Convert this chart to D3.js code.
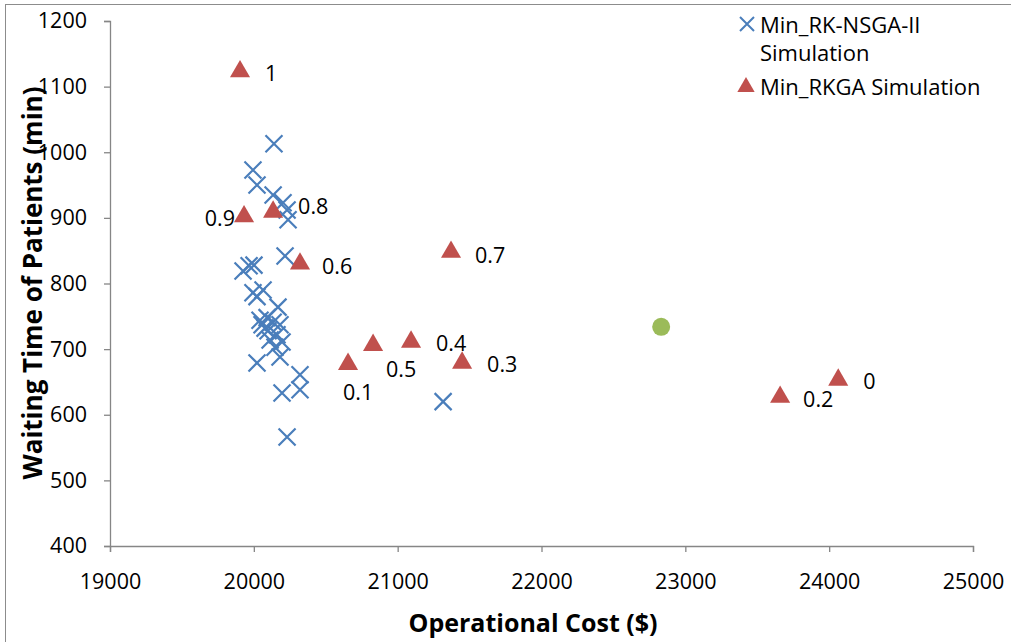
<!DOCTYPE html>
<html>
<head>
<meta charset="utf-8">
<script src="https://cdn.jsdelivr.net/npm/d3@7"></script>
<style>
  html, body { margin: 0; padding: 0; background: #fff; }
  svg { display: block; }
  text { font-family: "Open Sans", "Noto Sans", sans-serif; fill: #000; }
</style>
</head>
<body>
<svg id="chart" width="1011" height="642"></svg>
<script>
// Min_RK-NSGA-II simulation results: operational cost ($) and waiting time (min)
const nsgaCost = [20140, 19994, 20022, 20134, 20203, 20231, 20238, 20217, 19925, 19967,
                  20001, 19994, 20064, 20022, 20168, 20092, 20057, 20134, 20078, 20182,
                  20161, 20196, 20147, 20113, 20022, 20182, 20321, 20196, 20321, 20231,
                  21316, 20099, 20043];
const nsgaWait = [1013, 973, 950, 935, 923, 912, 897, 842, 819, 827,
                  828, 786, 790, 780, 764, 748, 737, 741, 732, 737,
                  722, 711, 703, 714, 679, 688, 661, 633, 638, 566,
                  620, 728, 744];

// Min_RKGA simulation results, one per weight value
const rkgaWeight = ["1", "0.9", "0.8", "0.6", "0.7", "0.1", "0.5", "0.4", "0.3", "0.2", "0"];
const rkgaCost   = [19904, 19932, 20134, 20321, 21371, 20655, 20829, 21093, 21448, 23659, 24063];
const rkgaWait   = [1123, 902, 909, 830, 848, 677, 706, 711, 679, 627, 653];
// where each weight label sits relative to its marker: [dx, dy, anchor]
const rkgaLabelPlace = [[25, 1, "start"], [-9, 1, "end"], [25, -6, "start"], [22, 2, "start"],
                        [24, 2, "start"], [-5, 27, "start"], [13, 23, "start"], [25, 1, "start"],
                        [25, 1, "start"], [23, 1, "start"], [25, 1, "start"]];

// Single reference point
const refCost = [22832];
const refWait = [734];

// Axis ticks
const xTicks = [19000, 20000, 21000, 22000, 23000, 24000, 25000];
const yTicks = [400, 500, 600, 700, 800, 900, 1000, 1100, 1200];

const svg = d3.select("#chart");
const axisGrey = "#868686";
const blue = "#4a7ebb", red = "#c0504d", green = "#9bbb59";

// outer chart frame
svg.append("rect").attr("x", 5.5).attr("y", 4.5).attr("width", 1100).attr("height", 700)
  .attr("fill", "none").attr("stroke", "#8c8c8c").attr("stroke-width", 1);

const x = d3.scaleLinear().domain([19000, 25000]).range([110, 973]);
const y = d3.scaleLinear().domain([400, 1200]).range([546, 21]);

// x axis
const xAxis = svg.append("g").attr("transform", "translate(0,546)")
  .call(d3.axisBottom(x).tickValues(xTicks).tickSize(6).tickPadding(22).tickFormat(d3.format("d")));
// y axis
const yAxis = svg.append("g").attr("transform", "translate(110,0)")
  .call(d3.axisLeft(y).tickValues(yTicks).tickSize(6).tickPadding(20).tickFormat(d3.format("d")));

[xAxis, yAxis].forEach(g => {
  g.select(".domain").attr("stroke", axisGrey).attr("stroke-width", 1.3);
  g.selectAll(".tick line").attr("stroke", axisGrey).attr("stroke-width", 1.3);
  g.selectAll(".tick text").attr("font-family", "'Open Sans', sans-serif")
    .attr("font-size", 21.5).attr("fill", "#000");
});
xAxis.selectAll(".tick text").attr("dy", "0.71em");
yAxis.selectAll(".tick text").attr("dx", "3");

// axis titles
svg.append("text").attr("x", 533).attr("y", 632).attr("text-anchor", "middle")
  .attr("font-size", 25).attr("font-weight", "bold").text("Operational Cost ($)");
svg.append("text").attr("transform", "translate(42,283) rotate(-90)").attr("text-anchor", "middle")
  .attr("font-size", 26).attr("font-weight", "bold").text("Waiting Time of Patients (min)");

// marker shapes
const crossPath = s => `M${-s},${-s}L${s},${s}M${-s},${s}L${s},${-s}`;
const triPath = d3.symbol().type(d3.symbolTriangle).size(175);

// NSGA-II crosses
svg.append("g").selectAll("path").data(nsgaCost).join("path")
  .attr("transform", (d, i) => `translate(${x(d)},${y(nsgaWait[i])})`)
  .attr("d", crossPath(8.5))
  .attr("stroke", blue).attr("stroke-width", 2.2).attr("fill", "none");

// RKGA triangles
svg.append("g").selectAll("path").data(rkgaCost).join("path")
  .attr("transform", (d, i) => `translate(${x(d)},${y(rkgaWait[i])})`)
  .attr("d", triPath).attr("fill", red);

// weight labels
svg.append("g").selectAll("text").data(rkgaCost).join("text")
  .attr("x", (d, i) => x(d) + rkgaLabelPlace[i][0])
  .attr("y", (d, i) => y(rkgaWait[i]) + rkgaLabelPlace[i][1])
  .attr("text-anchor", (d, i) => rkgaLabelPlace[i][2])
  .attr("dominant-baseline", "central")
  .attr("font-size", 21.5)
  .text((d, i) => rkgaWeight[i]);

// reference point
svg.append("g").selectAll("circle").data(refCost).join("circle")
  .attr("cx", d => x(d)).attr("cy", (d, i) => y(refWait[i])).attr("r", 9)
  .attr("fill", green);

// legend
const lg = svg.append("g");
lg.append("path").attr("transform", "translate(747,24)").attr("d", crossPath(7))
  .attr("stroke", blue).attr("stroke-width", 2).attr("fill", "none");
lg.append("text").attr("x", 760).attr("y", 24).attr("dominant-baseline", "central")
  .attr("font-size", 22).text("Min_RK-NSGA-II");
lg.append("text").attr("x", 760).attr("y", 52).attr("dominant-baseline", "central")
  .attr("font-size", 22).text("Simulation");
lg.append("path").attr("transform", "translate(746,87)")
  .attr("d", d3.symbol().type(d3.symbolTriangle).size(130)).attr("fill", red);
lg.append("text").attr("x", 760).attr("y", 86).attr("dominant-baseline", "central")
  .attr("font-size", 22).text("Min_RKGA Simulation");
</script>
</body>
</html>
